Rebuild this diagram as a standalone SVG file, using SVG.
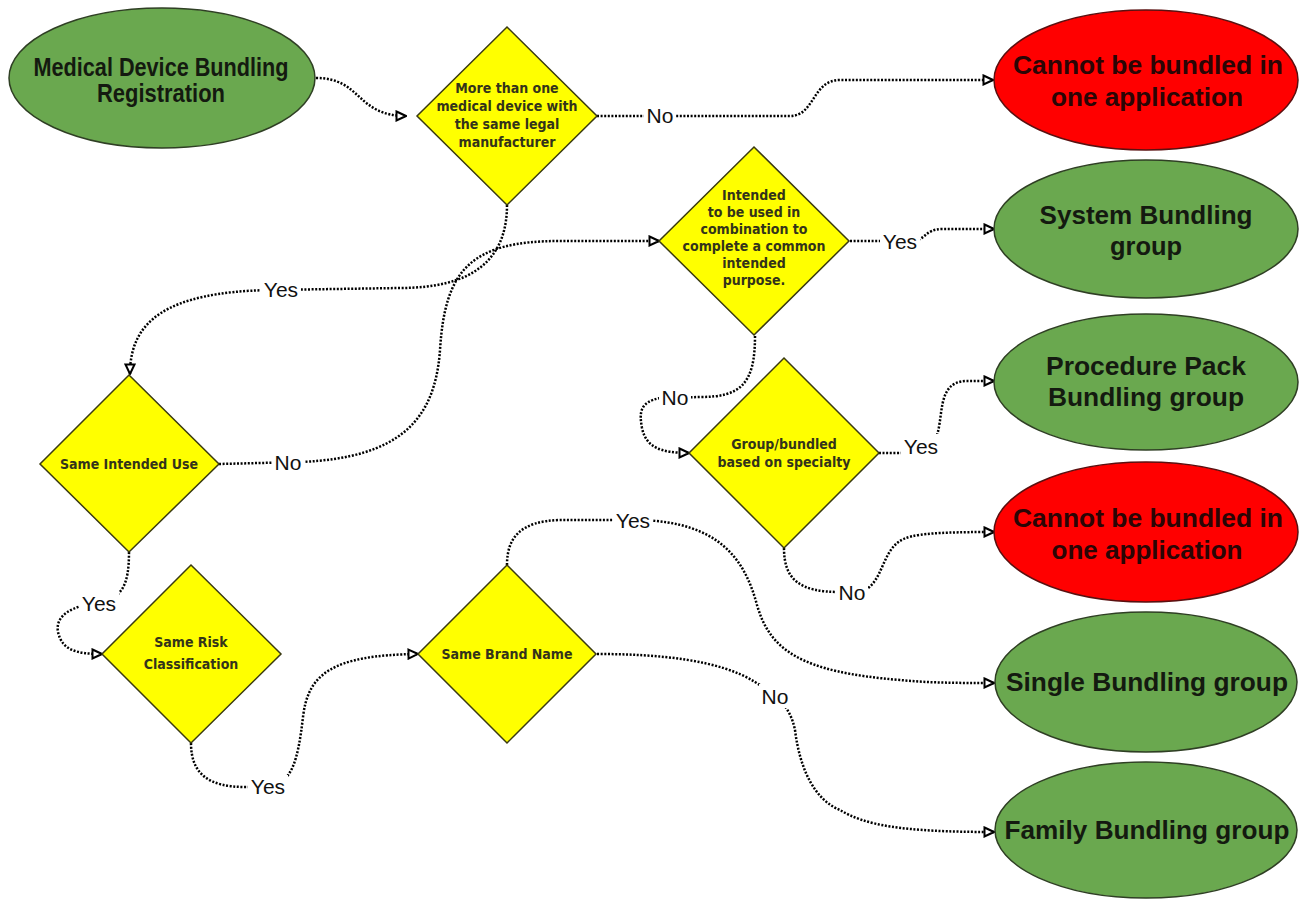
<svg xmlns="http://www.w3.org/2000/svg" width="1301" height="899" viewBox="0 0 1301 899">
<style>
.g{fill:#6aa84f;stroke:#2f3f24;stroke-width:1.5}
.r{fill:#ff0000;stroke:#5a1010;stroke-width:1.5}
.d{fill:#ffff00;stroke:#3a3a10;stroke-width:1.5}
.et{font-family:"Liberation Sans",Arial,sans-serif;font-weight:bold;font-size:25px;fill:#141a10;text-anchor:middle}
.rt{font-family:"Liberation Sans",Arial,sans-serif;font-weight:bold;font-size:25px;fill:#2a0505;text-anchor:middle}
.dt{font-family:"Liberation Sans Narrow","DejaVu Sans Condensed","Liberation Sans",sans-serif;font-weight:bold;font-size:14px;fill:#33331a;text-anchor:middle}
.c{fill:none;stroke:#000;stroke-width:2.5;stroke-dasharray:2 1.6}
.lb{font-family:"Liberation Sans Narrow","Liberation Sans",Arial,sans-serif;font-size:21px;fill:#111;text-anchor:middle}
.bg{fill:#fff}
</style>
<defs>
<marker id="a" viewBox="0 0 12 12" refX="11" refY="6" markerWidth="12" markerHeight="12" markerUnits="userSpaceOnUse" orient="auto">
<path d="M1.5,1.5 L11,6 L1.5,10.5 Z" fill="#fff" stroke="#000" stroke-width="2"/>
</marker>
</defs>
<rect width="1301" height="899" fill="#fff"/>

<g id="connectors">
<path class="c" d="M316,78 C362,78 356,116 406,116" marker-end="url(#a)"/>
<path class="c" d="M597,116 L790,116 C815,116 812,80 840,80 L993,80" marker-end="url(#a)"/>
<path class="c" d="M507,205 C507,262 470,288 400,288 L270,290 C165,292 130,322 130,374" marker-end="url(#a)"/>
<path class="c" d="M219,464 L300,462 C400,458 435,420 440,350 C445,270 470,241 560,241 L659,241" marker-end="url(#a)"/>
<path class="c" d="M850,241 L912,241 C925,241 925,229 942,229 L994,229" marker-end="url(#a)"/>
<path class="c" d="M755,336 C755,385 740,397 700,397 L660,398 C640,402 639,412 642,428 C646,447 660,453 689,453" marker-end="url(#a)"/>
<path class="c" d="M879,453 C900,453 925,455 935,440 C945,420 935,382 966,381 L994,381" marker-end="url(#a)"/>
<path class="c" d="M784,548 C784,580 800,592 840,592 L855,592 C880,592 880,560 895,545 C905,535 920,532 994,532" marker-end="url(#a)"/>
<path class="c" d="M129,552 C129,585 122,598 100,602 C72,606 55,615 58,632 C62,650 76,654 102,654" marker-end="url(#a)"/>
<path class="c" d="M191,743 C191,775 210,787 245,787 L268,787 C292,784 298,760 303,717 C308,675 330,655 418,654" marker-end="url(#a)"/>
<path class="c" d="M507,565 C507,538 520,521 560,520 L640,520 C720,522 745,560 757,605 C770,650 800,672 900,680 C930,683 960,683 994,683" marker-end="url(#a)"/>
<path class="c" d="M597,654 C660,654 720,660 755,682 C775,694 790,705 795,730 C800,770 815,800 840,810 C865,825 900,832 994,832" marker-end="url(#a)"/>
<g id="labels">
<rect class="bg" x="644" y="103" width="32" height="24"/><text class="lb" x="660" y="123">No</text>
<rect class="bg" x="261" y="277" width="40" height="24"/><text class="lb" x="281" y="297">Yes</text>
<rect class="bg" x="272" y="450" width="32" height="24"/><text class="lb" x="288" y="470">No</text>
<rect class="bg" x="880" y="229" width="40" height="24"/><text class="lb" x="900" y="249">Yes</text>
<rect class="bg" x="659" y="385" width="32" height="24"/><text class="lb" x="675" y="405">No</text>
<rect class="bg" x="901" y="434" width="40" height="24"/><text class="lb" x="921" y="454">Yes</text>
<rect class="bg" x="836" y="580" width="32" height="24"/><text class="lb" x="852" y="600">No</text>
<rect class="bg" x="79" y="591" width="40" height="24"/><text class="lb" x="99" y="611">Yes</text>
<rect class="bg" x="248" y="775" width="40" height="24"/><text class="lb" x="268" y="794">Yes</text>
<rect class="bg" x="613" y="508" width="40" height="24"/><text class="lb" x="633" y="528">Yes</text>
<rect class="bg" x="759" y="684" width="32" height="24"/><text class="lb" x="775" y="704">No</text>
</g>
</g>

<g id="n-start"><ellipse class="g" cx="162" cy="78" rx="153" ry="70"/>
<text class="et" x="161" y="76" font-size="21" textLength="255" lengthAdjust="spacingAndGlyphs">Medical Device Bundling</text><text class="et" x="161" y="102" font-size="21" textLength="128" lengthAdjust="spacingAndGlyphs">Registration</text></g>

<g id="n-q1"><polygon class="d" points="507,27 597,116 507,205 417,116"/>
<text class="dt"><tspan x="507" y="93">More than one</tspan><tspan x="507" y="111">medical device with</tspan><tspan x="507" y="129">the same legal</tspan><tspan x="507" y="147">manufacturer</tspan></text></g>

<g id="n-cannot1"><ellipse class="r" cx="1146" cy="80" rx="152" ry="70"/>
<text class="rt" x="1148" y="74" textLength="270" lengthAdjust="spacingAndGlyphs">Cannot be bundled in</text><text class="rt" x="1147" y="106" textLength="192" lengthAdjust="spacingAndGlyphs">one application</text></g>

<g id="n-q2"><polygon class="d" points="754,147 849,241 754,335 659,241"/>
<text class="dt"><tspan x="754" y="200">Intended</tspan><tspan x="754" y="217">to be used in</tspan><tspan x="754" y="234">combination to</tspan><tspan x="754" y="251">complete a common</tspan><tspan x="754" y="268">intended</tspan><tspan x="754" y="285">purpose.</tspan></text></g>

<g id="n-system"><ellipse class="g" cx="1146" cy="229" rx="152" ry="69"/>
<text class="et" x="1146" y="224" textLength="213" lengthAdjust="spacingAndGlyphs">System Bundling</text><text class="et" x="1146" y="255" textLength="72" lengthAdjust="spacingAndGlyphs">group</text></g>

<g id="n-procedure"><ellipse class="g" cx="1146" cy="382" rx="152" ry="68"/>
<text class="et" x="1146" y="375" textLength="200" lengthAdjust="spacingAndGlyphs">Procedure Pack</text><text class="et" x="1146" y="406" textLength="196" lengthAdjust="spacingAndGlyphs">Bundling group</text></g>

<g id="n-q3"><polygon class="d" points="784,358 879,453 784,548 689,453"/>
<text class="dt"><tspan x="784" y="449">Group/bundled</tspan><tspan x="784" y="467">based on specialty</tspan></text></g>

<g id="n-cannot2"><ellipse class="r" cx="1146" cy="532" rx="152" ry="70"/>
<text class="rt" x="1148" y="527" textLength="270" lengthAdjust="spacingAndGlyphs">Cannot be bundled in</text><text class="rt" x="1147" y="559" textLength="191" lengthAdjust="spacingAndGlyphs">one application</text></g>

<g id="n-q4"><polygon class="d" points="129,375 219,464 129,552 40,464"/>
<text class="dt" x="129" y="469">Same Intended Use</text></g>

<g id="n-q5"><polygon class="d" points="191,565 281,654 191,743 102,654"/>
<text class="dt"><tspan x="191" y="647">Same Risk</tspan><tspan x="191" y="669">Classification</tspan></text></g>

<g id="n-q6"><polygon class="d" points="507,565 596,654 507,743 418,654"/>
<text class="dt" x="507" y="659">Same Brand Name</text></g>

<g id="n-single"><ellipse class="g" cx="1146" cy="682" rx="151" ry="70"/>
<text class="et" x="1147" y="691" textLength="282" lengthAdjust="spacingAndGlyphs">Single Bundling group</text></g>

<g id="n-family"><ellipse class="g" cx="1146" cy="830" rx="151" ry="68"/>
<text class="et" x="1147" y="839" textLength="285" lengthAdjust="spacingAndGlyphs">Family Bundling group</text></g>
</svg>
